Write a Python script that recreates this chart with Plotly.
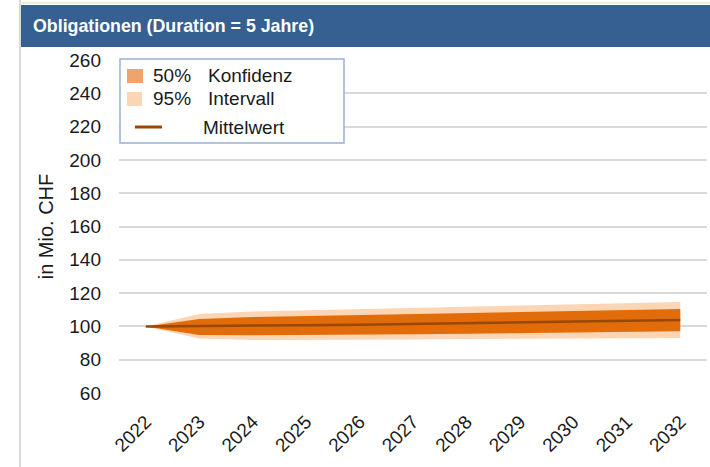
import plotly.graph_objects as go

# data
years = [str(y) for y in range(2022, 2033)]
mean = [100, 100.1, 100.3, 100.7, 101.0, 101.4, 101.9, 102.4, 102.9, 103.4, 103.9]
p50_hi = [100, 104.5, 105.6, 106.2, 106.8, 107.4, 108.0, 108.6, 109.2, 109.8, 110.4]
p50_lo = [100, 94.8, 94.7, 94.8, 95.0, 95.3, 95.6, 95.9, 96.3, 96.7, 97.1]
p95_hi = [100, 107.5, 108.9, 109.6, 110.3, 111.0, 111.7, 112.4, 113.1, 113.9, 114.7]
p95_lo = [100, 92.7, 91.9, 91.9, 92.0, 92.2, 92.4, 92.6, 92.8, 93.0, 93.1]
y_ticks = list(range(60, 261, 20))

TITLE = "Obligationen (Duration = 5 Jahre)"
FONT = "Liberation Sans, Arial, sans-serif"

DARK = "#E36C0A"
LIGHT = "#FCD5B4"
LINE = "#984807"

# plot area in pixels
W, H = 710, 467
L, T, R, B = 119, 60, 3, 74
PW, PH = W - L - R, H - T - B


def px(x):
    return (x - L) / PW


def py(y):
    return (H - B - y) / PH


fig = go.Figure()
fig.add_trace(go.Scatter(x=years, y=p95_lo, mode="lines", line=dict(width=0), hoverinfo="skip"))
fig.add_trace(go.Scatter(x=years, y=p95_hi, mode="lines", line=dict(width=0), fill="tonexty",
                         fillcolor=LIGHT, name="95% Intervall"))
fig.add_trace(go.Scatter(x=years, y=p50_lo, mode="lines", line=dict(width=0), hoverinfo="skip"))
fig.add_trace(go.Scatter(x=years, y=p50_hi, mode="lines", line=dict(width=0), fill="tonexty",
                         fillcolor=DARK, name="50% Konfidenz"))
fig.add_trace(go.Scatter(x=years, y=mean, mode="lines", line=dict(color=LINE, width=2.5),
                         name="Mittelwert"))

shapes = [
    # panel border (left / top)
    dict(type="line", xref="paper", yref="paper", x0=px(20), x1=px(20), y0=py(0), y1=py(H),
         line=dict(color="#D9D9D9", width=2)),
    dict(type="line", xref="paper", yref="paper", x0=px(20), x1=px(W), y0=py(3), y1=py(3),
         line=dict(color="#E3E3E3", width=1.5)),
    # header bar
    dict(type="rect", xref="paper", yref="paper", x0=px(21), x1=px(W), y0=py(47), y1=py(5),
         fillcolor="#366092", line=dict(width=0), layer="above"),
    # legend box
    dict(type="rect", xref="paper", yref="paper", x0=px(120), x1=px(344), y0=py(143), y1=py(59),
         fillcolor="white", line=dict(color="#95B3D7", width=1.5), layer="above"),
    dict(type="rect", xref="paper", yref="paper", x0=px(127), x1=px(143), y0=py(83), y1=py(69),
         fillcolor="#F0A46C", line=dict(width=0), layer="above"),
    dict(type="rect", xref="paper", yref="paper", x0=px(127), x1=px(142), y0=py(106), y1=py(92),
         fillcolor=LIGHT, line=dict(width=0), layer="above"),
    dict(type="line", xref="paper", yref="paper", x0=px(135), x1=px(162), y0=py(127), y1=py(127),
         line=dict(color=LINE, width=3), layer="above"),
]


def label(text, x, y, size=19, color="#1a1a1a", bold=False):
    return dict(text=f"<b>{text}</b>" if bold else text, xref="paper", yref="paper",
                x=px(x), y=py(y), xanchor="left", yanchor="middle", showarrow=False,
                font=dict(family=FONT, size=size, color=color))


annotations = [
    label(TITLE, 31, 26, size=17.8, color="white", bold=True),
    label("50%", 151, 75),
    label("Konfidenz", 206, 75),
    label("95%", 151, 98),
    label("Intervall", 206, 98),
    label("Mittelwert", 201, 127),
]

fig.update_layout(
    width=W, height=H,
    margin=dict(l=L, r=R, t=T, b=B),
    paper_bgcolor="white", plot_bgcolor="white",
    showlegend=False,
    shapes=shapes,
    annotations=annotations,
    font=dict(family=FONT, color="#1a1a1a"),
    xaxis=dict(type="category", range=[-0.5, 10.5], tickangle=-45, showgrid=False,
               showline=False, zeroline=False, tickfont=dict(size=19), ticklabelstandoff=13),
    yaxis=dict(range=[60, 260], tickvals=y_ticks, showgrid=True, gridcolor="#D9D9D9",
               gridwidth=1.5, zeroline=False, showline=False, tickfont=dict(size=19),
               ticklabelstandoff=17,
               title=dict(text="in Mio. CHF", font=dict(size=20), standoff=10)),
)

# drop the default body margin so the figure sits at the page origin
fig.write_html("out.html", config={"displayModeBar": False},
               post_script="document.body.style.margin = '0';")
